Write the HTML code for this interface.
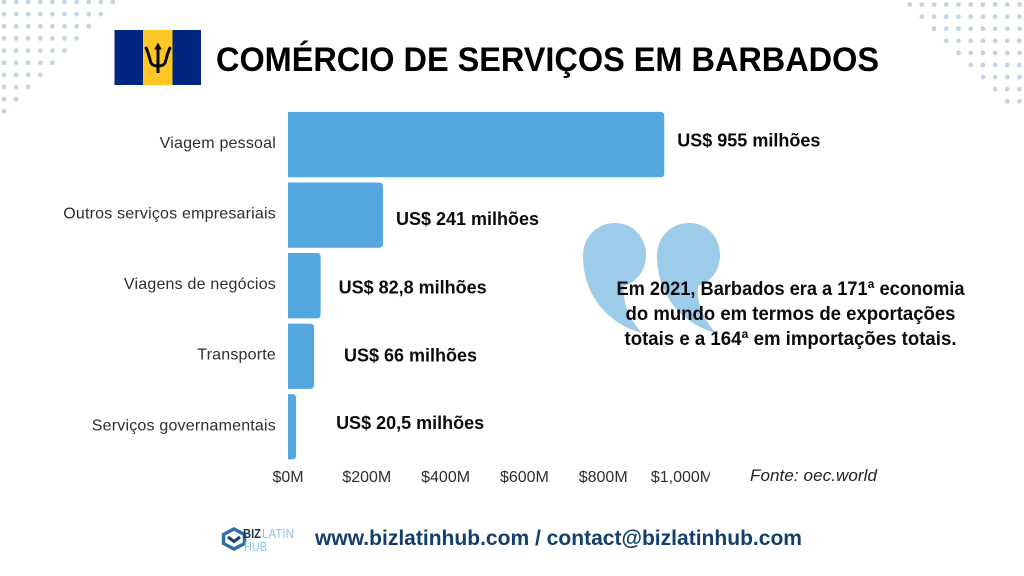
<!DOCTYPE html>
<html lang="pt">
<head>
<meta charset="utf-8">
<title>Comércio de serviços em Barbados</title>
<style>
html,body{margin:0;padding:0;background:#fff;width:1024px;height:576px;overflow:hidden}
svg{display:block}
text{font-family:"Liberation Sans",sans-serif}
.cat{font-size:16px;fill:#2e2e2e;text-anchor:end;letter-spacing:.2px}
.tick{font-size:16px;fill:#2e2e2e;text-anchor:middle}
.val{font-size:18px;font-weight:700;fill:#0b0b0b}
.note{font-size:19px;font-weight:700;fill:#0b0b0b;text-anchor:middle}
</style>
</head>
<body>
<svg id="chart" xmlns="http://www.w3.org/2000/svg" width="1024" height="576" viewBox="0 0 1024 576">
  <defs>
    <clipPath id="tick-clip"><rect x="260" y="460" width="450" height="34"/></clipPath>
  </defs>
  <rect width="1024" height="576" fill="#fff"/>
  <g id="dots" fill="#c6d4e1"></g>

  <g>
    <rect x="114.5" y="30" width="29" height="55" fill="#00267f"/>
    <rect x="143" y="30" width="29.5" height="55" fill="#ffc726"/>
    <rect x="172.5" y="30" width="28.5" height="55" fill="#00267f"/>
    <g fill="none" stroke="#0a0a0a">
      <path d="M158 46V73" stroke-width="3"/>
      <path d="M145.500 47C149 53 149.500 59 151 63C152.500 65.500 155 66 158 66C161 66 163.500 65.500 165 63C166.500 59 167 53 170.500 47" stroke-width="3"/>
      <path d="M158 42.500l-3.800 7h7.600z" fill="#0a0a0a" stroke="none"/>
    </g>
  </g>
  <text x="216" y="71" font-size="34" font-weight="700" fill="#000" textLength="663" lengthAdjust="spacingAndGlyphs">COMÉRCIO DE SERVIÇOS EM BARBADOS</text>

  <g id="bars"></g>
  <g id="categories"></g>
  <g id="ticks" clip-path="url(#tick-clip)"></g>

  <g fill="#9dcbea">
    <path d="M583 256C583 237 597 223 615 223C633 223 646 237 646 255C646 270 638 281 624 286C622 303 630 320 642 333C608 324 583 295 583 256Z"/>
    <path d="M657 256C657 237 671 223 689 223C707 223 720 237 720 255C720 270 712 281 698 286C696 303 704 320 716 333C682 324 657 295 657 256Z"/>
  </g>
  <g>
    <text class="note" x="790.500" y="295" textLength="348" lengthAdjust="spacingAndGlyphs">Em 2021, Barbados era a 171ª economia</text>
    <text class="note" x="790.500" y="320" textLength="330" lengthAdjust="spacingAndGlyphs">do mundo em termos de exportações</text>
    <text class="note" x="790.500" y="345" textLength="332" lengthAdjust="spacingAndGlyphs">totais e a 164ª em importações totais.</text>
  </g>
  <text x="750" y="481" font-size="17" font-style="italic" fill="#222" textLength="127" lengthAdjust="spacing">Fonte: oec.world</text>

  <g>
    <path d="M234 529L244.500 534.500V543.500L234 549L223.500 543.500V534.500Z" fill="none" stroke="#2f6ea8" stroke-width="3.500"/>
    <path d="M228 537L234 541.500L240 537" fill="none" stroke="#12406b" stroke-width="3"/>
    <text x="243" y="538" font-size="13" font-weight="700" fill="#1f3347" textLength="18" lengthAdjust="spacingAndGlyphs">BIZ</text>
    <text x="262" y="538" font-size="13" fill="#8fc4ea" textLength="32" lengthAdjust="spacingAndGlyphs">LATIN</text>
    <text x="244" y="551" font-size="13" fill="#8fc4ea" textLength="23" lengthAdjust="spacingAndGlyphs">HUB</text>
  </g>
  <a>
    <text x="315" y="545" font-size="21" font-weight="700" fill="#12406b" textLength="487" lengthAdjust="spacingAndGlyphs">www.bizlatinhub.com / contact@bizlatinhub.com</text>
  </a>
</svg>
<script>
var categories = ["Viagem pessoal", "Outros serviços empresariais", "Viagens de negócios", "Transporte", "Serviços governamentais"];
var seriesValues = [955, 241, 82.8, 66, 20.5];
var valueLabels = ["US$ 955 milhões", "US$ 241 milhões", "US$ 82,8 milhões", "US$ 66 milhões", "US$ 20,5 milhões"];
var tickValues = [0, 200, 400, 600, 800, 1000];
var tickLabels = ["$0M", "$200M", "$400M", "$600M", "$800M", "$1,000M"];

var NS = "http://www.w3.org/2000/svg";
var PLOT_LEFT = 288, PX_PER_UNIT = 0.394, BAND_TOP = 109.3, BAND = 70.55, BAR_H = 65.3, R = 4;

function xScale(v) { return PLOT_LEFT + v * PX_PER_UNIT; }
function bandTop(i) { return BAND_TOP + i * BAND + (BAND - BAR_H) / 2; }
function make(tag, attrs, parent, text) {
  var el = document.createElementNS(NS, tag);
  for (var k in attrs) el.setAttribute(k, attrs[k]);
  if (text !== undefined) el.textContent = text;
  parent.appendChild(el);
  return el;
}
function barPath(x0, x1, y, h) {
  var r = Math.min(R, (x1 - x0) / 2);
  return "M" + x0 + " " + y + "H" + (x1 - r) + "Q" + x1 + " " + y + " " + x1 + " " + (y + r) +
    "V" + (y + h - r) + "Q" + x1 + " " + (y + h) + " " + (x1 - r) + " " + (y + h) + "H" + x0 + "Z";
}

/* hand-placed annotation offsets in the source design, relative to the bar end / bar centre */
function labelDx(i) { return i === 4 ? 40 : i === 3 ? 30 : i === 2 ? 18 : 13; }
function labelDy(i) { return i === 0 ? 2 : i === 1 ? 10 : i === 2 ? 8 : i === 3 ? 5.500 : 2; }

var barsG = document.getElementById("bars");
var catsG = document.getElementById("categories");
var ticksG = document.getElementById("ticks");
var dotsG = document.getElementById("dots");

seriesValues.forEach(function (v, i) {
  var y = bandTop(i);
  var bar = make("path", { d: barPath(PLOT_LEFT, xScale(v), y, BAR_H), fill: "#55a7df" }, barsG);
  
  
  var cat = make("text", { "class": "cat", x: 276, y: y + BAR_H / 2 + 3.5 }, catsG, categories[i]);
  
  
  var lab = make("text", { "class": "val", x: xScale(v) + labelDx(i), y: y + BAR_H / 2 + labelDy(i) }, barsG, valueLabels[i]);
  
  
});

tickValues.forEach(function (t, i) {
  var tick = make("text", { "class": "tick", x: xScale(t), y: 482 }, ticksG, tickLabels[i]);
  
  
});

var row, col, dot;
for (row = 0; row < 10; row++) {
  for (col = 0; col < 10 - row; col++) {
    dot = make("circle", { cx: 4 + col * 12.1, cy: 2 + row * 12.15, r: 2.4 }, dotsG);
    
    
  }
}
for (row = 0; row < 9; row++) {
  for (col = 0; col < 10 - row; col++) {
    dot = make("circle", { cx: 1019.5 - col * 12.2, cy: 4.5 + row * 12.1, r: 2.4 }, dotsG);
    
    
  }
}
</script>
</body>
</html>
